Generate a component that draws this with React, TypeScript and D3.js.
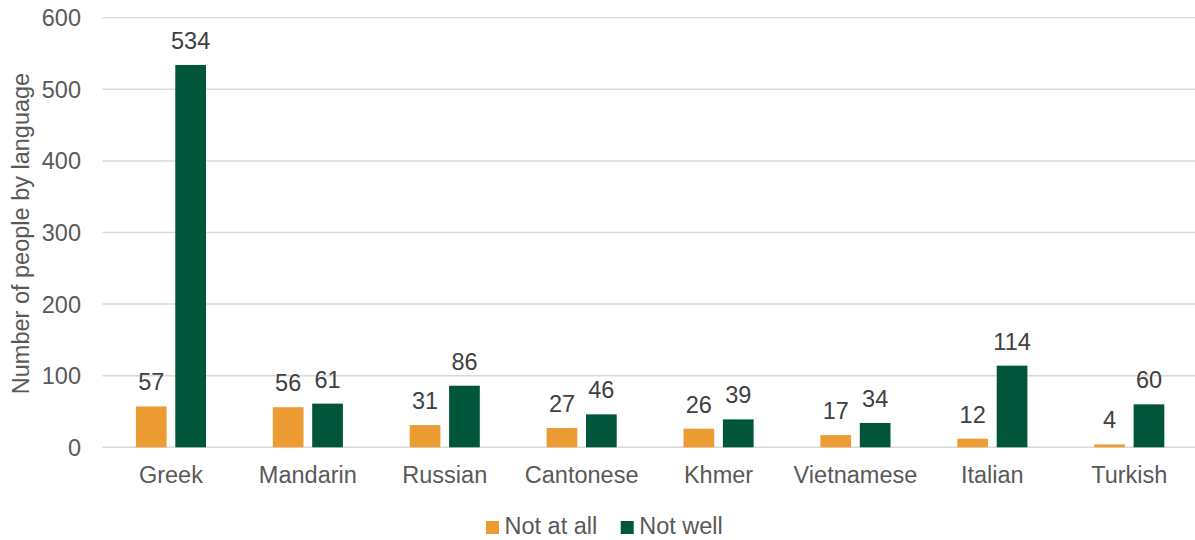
import React from "react";
import * as d3 from "d3";

const categories = ["Greek", "Mandarin", "Russian", "Cantonese", "Khmer", "Vietnamese", "Italian", "Turkish"];
const notAtAll = [57, 56, 31, 27, 26, 17, 12, 4];
const notWell = [534, 61, 86, 46, 39, 34, 114, 60];
const seriesNames = ["Not at all", "Not well"];
const seriesColors = ["#ED9B33", "#00553A"];
const yTicks = [0, 100, 200, 300, 400, 500, 600];

const W = 1195;
const H = 540;
const FONT = "'Liberation Sans', Arial, sans-serif";
const FS = 23.5;

export default function App() {
  const x = d3.scaleBand<string>().domain(categories).range([102.5, 1197.7]).paddingInner(0).paddingOuter(0);
  const y = d3.scaleLinear().domain([0, 600]).range([447.3, 17.7]);
  const barW = 30.7;
  const gap = 8.7;
  const series = [notAtAll, notWell];

  return (
    <svg width={W} height={H} style={{ position: "absolute", left: 0, top: 0, background: "#fff" }} fontFamily={FONT}>
      {yTicks.map((t) => (
        <g key={t}>
          <line x1={102.5} x2={1197} y1={y(t)} y2={y(t)} stroke="#D9D9D9" strokeWidth={1.5} />
          <text x={81} y={y(t)} dy="0.36em" textAnchor="end" fontSize={FS} fill="#595959">
            {t}
          </text>
        </g>
      ))}
      {categories.map((c, i) => {
        const cx = (x(c) as number) + x.bandwidth() / 2;
        return (
          <g key={c}>
            {series.map((s, k) => {
              const bx = k === 0 ? cx - gap / 2 - barW : cx + gap / 2;
              const top = y(s[i]);
              return (
                <g key={k}>
                  <rect x={bx} y={top} width={barW} height={y(0) - top} fill={seriesColors[k]} />
                  <text x={bx + barW / 2} y={top - 16} textAnchor="middle" fontSize={FS} fill="#404040">
                    {s[i]}
                  </text>
                </g>
              );
            })}
            <text x={cx} y={483.3} textAnchor="middle" fontSize={FS} fill="#595959">
              {c}
            </text>
          </g>
        );
      })}
      <text
        transform={`translate(28.5, 233.5) rotate(-90)`}
        textAnchor="middle"
        fontSize={FS}
        fill="#595959"
      >
        Number of people by language
      </text>
      {seriesNames.map((n, k) => {
        const lx = k === 0 ? 486 : 620.7;
        return (
          <g key={n}>
            <rect x={lx} y={521} width={13} height={13} fill={seriesColors[k]} />
            <text x={lx + 18.5} y={534.3} fontSize={FS} fill="#595959">
              {n}
            </text>
          </g>
        );
      })}
    </svg>
  );
}
